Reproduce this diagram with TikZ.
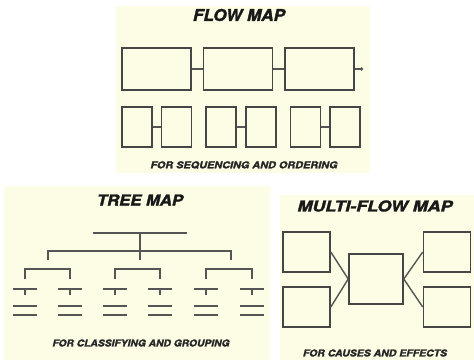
\documentclass[tikz,border=0pt]{standalone}
\usepackage{fontspec}
\usepackage{graphicx}
\newfontfamily\heavyfont{TeX Gyre Heros}[BoldItalicFeatures={FakeBold=1.8}]
\usetikzlibrary{positioning, arrows.meta}

\definecolor{cream}{RGB}{253,252,228}
\definecolor{boxgray}{RGB}{70,70,70}
\definecolor{linegray}{RGB}{85,85,85}

\tikzset{
    panel/.style={fill=cream, draw=none},
    mapbox/.style={draw=boxgray, line width=1.6pt, fill=cream, inner sep=0pt},
    bigbox/.style={mapbox, minimum width=69pt, minimum height=42pt},
    smallbox/.style={mapbox, minimum width=30pt, minimum height=40pt},
    sidebox/.style={mapbox, minimum width=47pt, minimum height=40pt},
    link/.style={draw=linegray, line width=1.4pt},
    maptitle/.style={font=\heavyfont\bfseries\itshape, text=black!90, inner sep=0pt},
    mapcaption/.style={font=\heavyfont\bfseries\itshape, text=black!85, inner sep=0pt}
}

\begin{document}
\begin{tikzpicture}[x=1pt, y=-1pt]
    \useasboundingbox[fill=white] (0,0) rectangle (474,360);

    % Panels
    \fill[panel] (116,6) rectangle (370,173);
    \fill[panel] (4,186) rectangle (270,360);
    \fill[panel] (280,195) rectangle (474,360);

    % FLOW MAP
    \node[maptitle] (flowtitle) at (239,15) {\resizebox{92pt}{12pt}{FLOW MAP}};
    \node[bigbox] (f1) at (156.5,69) {};
    \node[bigbox, right=11pt of f1] (f2) {};
    \node[bigbox, right=11pt of f2] (f3) {};
    \coordinate (fend) at (363,69);
    \draw[link] (f1) -- (f2);
    \draw[link] (f2) -- (f3);
    \draw[link, -{Circle[length=3pt]}] (f3) -- (fend);

    \node[smallbox] (s1) at (137,127) {};
    \node[smallbox, right=8pt of s1] (s2) {};
    \node[smallbox, right=13pt of s2] (s3) {};
    \node[smallbox, right=8pt of s3] (s4) {};
    \node[smallbox, right=13pt of s4] (s5) {};
    \node[smallbox, right=8pt of s5] (s6) {};
    \draw[link] (s1) -- (s2);
    \draw[link] (s3) -- (s4);
    \draw[link] (s5) -- (s6);

    \node[mapcaption] (flowcap) at (244,165) {\resizebox{187pt}{7pt}{FOR SEQUENCING AND ORDERING}};

    % TREE MAP
    \node[maptitle] (treetitle) at (140,200) {\resizebox{86pt}{11pt}{TREE MAP}};
    \draw[link] (93,233) -- (187,233);
    \draw[link] (140,233) -- (140,260);
    \draw[link] (48,260) -- (48,251) -- (231,251) -- (231,260);

    \draw[link] (25,279) -- (25,269) -- (70,269) -- (70,279);
    \draw[link] (115,279) -- (115,269) -- (160,269) -- (160,279);
    \draw[link] (206,279) -- (206,269) -- (252,269) -- (252,279);

    \foreach \x in {25,70,115,160,206,252} {
        \draw[link] (\x-12,289) -- (\x+12,289);
        \draw[link] (\x,289) -- (\x,295);
        \draw[link] (\x-12,306) -- (\x+12,306);
        \draw[link] (\x-12,315) -- (\x+12,315);
    }

    \node[mapcaption] (treecap) at (141,343) {\resizebox{177pt}{7pt}{FOR CLASSIFYING AND GROUPING}};

    % MULTI-FLOW MAP
    \node[maptitle] (multititle) at (375,206) {\resizebox{155pt}{11pt}{MULTI-FLOW MAP}};
    \node[mapbox, minimum width=54pt, minimum height=50pt] (event) at (376,279) {};
    \node[sidebox] (cause1) at (306.5,252) {};
    \node[sidebox] (cause2) at (306.5,307) {};
    \node[sidebox] (effect1) at (447,252) {};
    \node[sidebox] (effect2) at (447,307) {};
    \draw[link] (cause1.east) -- (event.west);
    \draw[link] (cause2.east) -- (event.west);
    \draw[link] (event.east) -- (effect1.west);
    \draw[link] (event.east) -- (effect2.west);

    \node[mapcaption] (multicap) at (375,353) {\resizebox{144pt}{7pt}{FOR CAUSES AND EFFECTS}};
\end{tikzpicture}
\end{document}
